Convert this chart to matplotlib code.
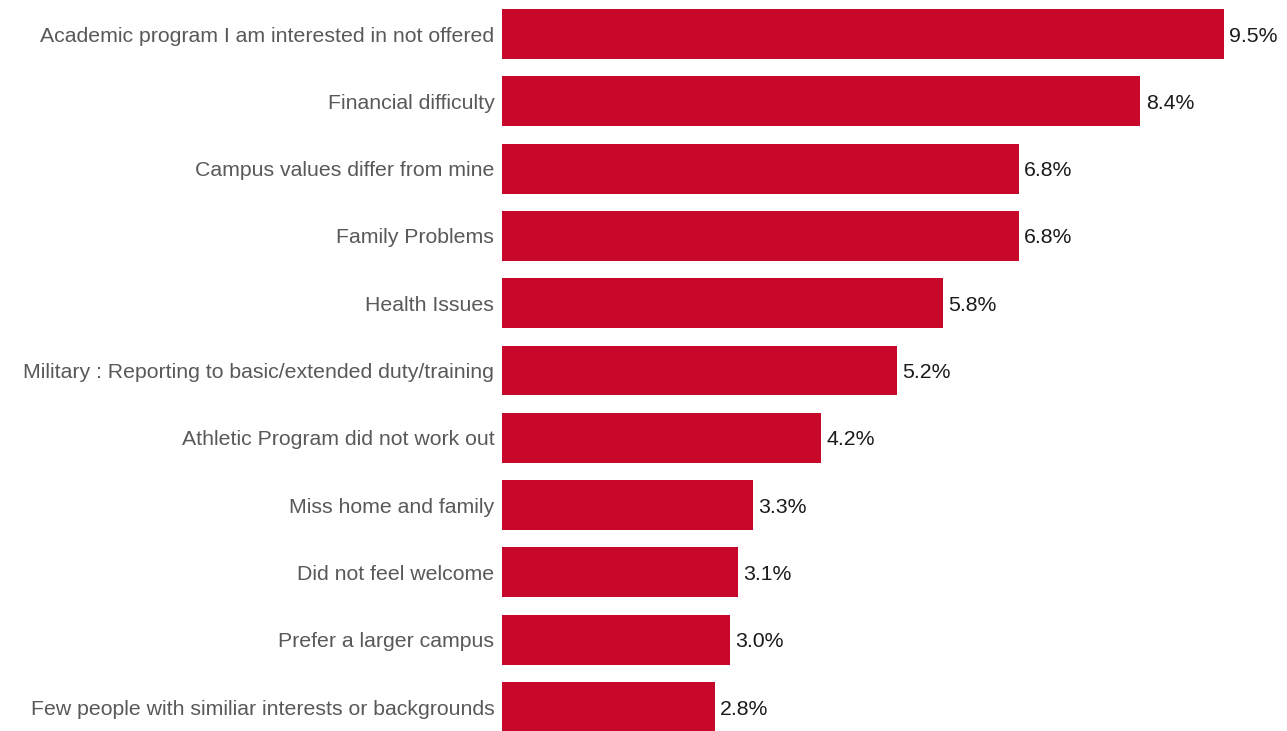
import matplotlib.pyplot as plt

categories = [
    "Academic program I am interested in not offered",
    "Financial difficulty",
    "Campus values differ from mine",
    "Family Problems",
    "Health Issues",
    "Military : Reporting to basic/extended duty/training",
    "Athletic Program did not work out",
    "Miss home and family",
    "Did not feel welcome",
    "Prefer a larger campus",
    "Few people with similiar interests or backgrounds",
]
values = [9.5, 8.4, 6.8, 6.8, 5.8, 5.2, 4.2, 3.3, 3.1, 3.0, 2.8]

plt.rcParams["font.family"] = ["Liberation Sans", "DejaVu Sans"]

W, H = 1287, 731
fig = plt.figure(figsize=(W / 100, H / 100), dpi=100)
# axes spans from bar baseline (x=502px) to right edge
ax = fig.add_axes([502 / W, 0, 1 - 502 / W, 1])

pos = list(range(len(categories)))
ax.barh(pos, values, height=0.74, color="#C8082A")
ax.set_xlim(0, (W - 502) / 76.0)
ax.set_ylim((H - 34) / 67.3, -34 / 67.3)

for y, v in zip(pos, values):
    ax.text(v + 0.07, y, f"{v:.1f}%", va="center_baseline", ha="left",
            fontsize=15.3, color="#1a1a1a")

ax.set_yticks(pos)
ax.set_yticklabels(categories, fontsize=15.3, color="#595959")
ax.tick_params(axis="y", length=0, pad=5.5)
ax.set_xticks([])
for s in ax.spines.values():
    s.set_visible(False)

fig.savefig("out.png", dpi=100)
